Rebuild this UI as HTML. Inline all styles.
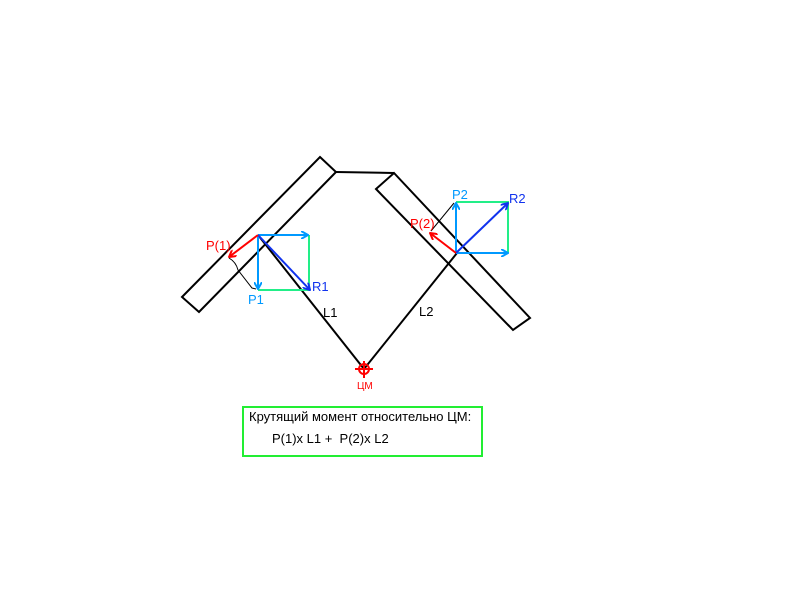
<!DOCTYPE html>
<html><head><meta charset="utf-8"><style>html,body{margin:0;padding:0;background:#fff}svg{display:block}</style></head>
<body>
<svg width="800" height="600" viewBox="0 0 800 600" xmlns="http://www.w3.org/2000/svg" font-family="Liberation Sans, DejaVu Sans, sans-serif">
<defs>
<marker id="aB" markerWidth="8" markerHeight="8" refX="7" refY="4" orient="auto" markerUnits="userSpaceOnUse"><path d="M0,0 L7,4 L0,8" fill="none" stroke="#0099ff" stroke-width="2"/></marker>
<marker id="aD" markerWidth="8" markerHeight="8" refX="7" refY="4" orient="auto" markerUnits="userSpaceOnUse"><path d="M0,0 L7,4 L0,8" fill="none" stroke="#1133ee" stroke-width="2"/></marker>
<marker id="aR" markerWidth="8" markerHeight="8" refX="7" refY="4" orient="auto" markerUnits="userSpaceOnUse"><path d="M0,0 L7,4 L0,8" fill="none" stroke="#ff0000" stroke-width="2"/></marker>
</defs>
<g fill="none" stroke="#000" stroke-width="2">
<polygon points="320,157 336,172 199,312 182,297"/>
<polygon points="376,189 394,173 530,318 513,330"/>
<line x1="336" y1="172" x2="394" y2="173"/>
<line x1="258" y1="235" x2="364" y2="369"/>
<line x1="457" y1="253" x2="364" y2="369"/>
</g>
<!-- left box -->
<polyline points="309,235 309,290 258,290" fill="none" stroke="#22ee88" stroke-width="2"/>
<line x1="258" y1="235" x2="308" y2="235" stroke="#0099ff" stroke-width="2" marker-end="url(#aB)"/>
<line x1="258" y1="235" x2="258" y2="289" stroke="#0099ff" stroke-width="2" marker-end="url(#aB)"/>
<line x1="258" y1="235" x2="310" y2="290" stroke="#1133ee" stroke-width="2" marker-end="url(#aD)"/>
<line x1="258" y1="235" x2="229" y2="257" stroke="#ff0000" stroke-width="2" marker-end="url(#aR)"/>
<path d="M229,258 Q236,262 238,270 L252,288 L256,289" fill="none" stroke="#000" stroke-width="1"/>
<!-- right box -->
<polyline points="456,202 508,202 508,253" fill="none" stroke="#22ee88" stroke-width="2"/>
<line x1="456" y1="253" x2="456" y2="203" stroke="#0099ff" stroke-width="2" marker-end="url(#aB)"/>
<line x1="456" y1="253" x2="508" y2="253" stroke="#0099ff" stroke-width="2" marker-end="url(#aB)"/>
<line x1="456" y1="253" x2="508" y2="203" stroke="#1133ee" stroke-width="2" marker-end="url(#aD)"/>
<line x1="456" y1="253" x2="430" y2="233" stroke="#ff0000" stroke-width="2" marker-end="url(#aR)"/>
<line x1="431" y1="231" x2="454" y2="203" stroke="#000" stroke-width="1"/>
<!-- labels -->
<g font-size="13">
<text x="206" y="250" fill="#ff0000">P(1)</text>
<text x="248" y="304" fill="#0099ff">P1</text>
<text x="312" y="291" fill="#1133ee">R1</text>
<text x="323" y="317" fill="#000">L1</text>
<text x="410" y="228" fill="#ff0000">P(2)</text>
<text x="452" y="199" fill="#0099ff">P2</text>
<text x="509" y="203" fill="#1133ee">R2</text>
<text x="419" y="316" fill="#000">L2</text>
</g>
<!-- CM -->
<circle cx="364" cy="369" r="5" fill="none" stroke="#ff0000" stroke-width="2"/>
<line x1="355" y1="369" x2="373" y2="369" stroke="#ff0000" stroke-width="2"/>
<line x1="364" y1="361" x2="364" y2="378" stroke="#ff0000" stroke-width="2"/>
<text x="357" y="389" font-size="10" fill="#ff0000">ЦМ</text>
<rect x="243" y="407" width="239" height="49" fill="none" stroke="#22ee33" stroke-width="2"/>
<text x="249" y="421" font-size="13" fill="#000">Крутящий момент относительно ЦМ:</text>
<text x="272" y="443" font-size="13" fill="#000" xml:space="preserve">P(1)x L1 +  P(2)x L2</text>
</svg>
</body></html>
